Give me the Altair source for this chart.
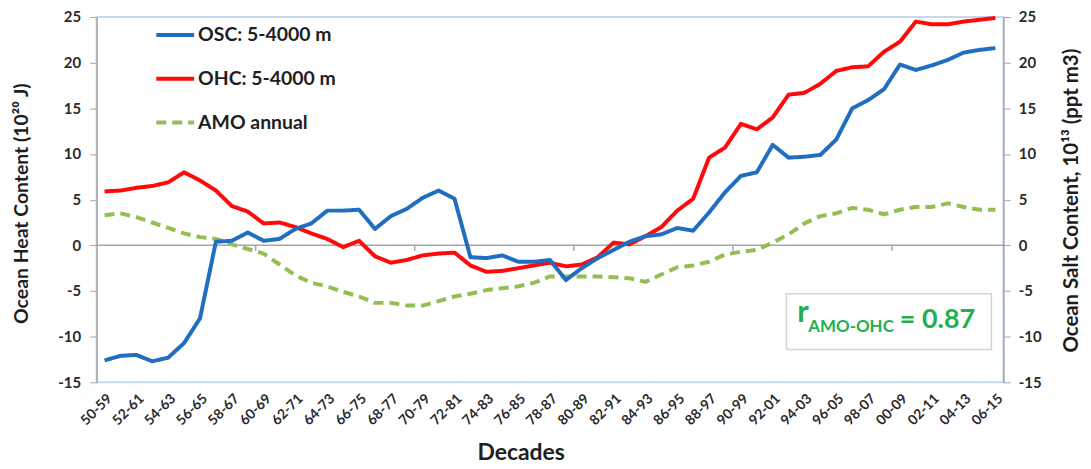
import altair as alt
import pandas as pd

# ---- data ----
start_years = list(range(1950, 2007))
decades = [f"{y % 100:02d}-{(y + 9) % 100:02d}" for y in start_years]

osc = [-12.6, -12.1, -12.0, -12.7, -12.3, -10.7, -8.0,
       0.4, 0.5, 1.4, 0.5, 0.7, 1.8, 2.4, 3.8,
       3.8, 3.9, 1.8, 3.2, 4.0, 5.2, 6.0, 5.1,
       -1.3, -1.4, -1.1, -1.8, -1.8, -1.6,
       -3.8, -2.5, -1.4, -0.5, 0.4, 1.0, 1.2, 1.9, 1.6, 3.6, 5.8, 7.6, 8.0, 11.0,
       9.6, 9.7, 9.9, 11.6, 15.0, 15.9, 17.1, 19.8, 19.2, 19.7, 20.3, 21.1, 21.4, 21.6]

ohc = [5.9, 6.0, 6.3, 6.5, 6.9, 8.0, 7.1, 6.0, 4.3, 3.7, 2.4, 2.5, 2.0, 1.3, 0.7,
       -0.2, 0.5, -1.2, -1.9, -1.6, -1.1, -0.9, -0.8, -2.2, -2.9, -2.8, -2.5, -2.2, -1.9,
       -2.3, -2.1, -1.3, 0.3, 0.1, 1.0, 2.0, 3.8, 5.1, 9.6, 10.7, 13.3, 12.7, 14.0,
       16.5, 16.7, 17.7, 19.1, 19.5, 19.6, 21.2, 22.3, 24.5, 24.2, 24.2, 24.5, 24.7, 24.9]

amo = [3.3, 3.5, 3.1, 2.5, 1.9, 1.3, 0.9, 0.7, 0.1, -0.4, -0.9, -2.1, -3.3, -4.1, -4.5,
       -5.1, -5.6, -6.3, -6.3, -6.6, -6.6, -6.1, -5.6, -5.3, -4.9, -4.7, -4.5, -4.1, -3.4,
       -3.4, -3.4, -3.4, -3.5, -3.6, -4.0, -3.2, -2.4, -2.2, -1.8, -1.0, -0.7, -0.5, 0.3,
       1.2, 2.4, 3.2, 3.5, 4.1, 3.9, 3.4, 3.9, 4.2, 4.2, 4.6, 4.2, 3.9, 3.9]

series_names = ["OSC: 5-4000 m", "OHC: 5-4000 m", "AMO annual"]
series_colors = ["#1f6ebf", "#ff0a0a", "#93bf52"]
series_dash = [[1, 0], [1, 0], [10, 6]]

y_ticks = [-15, -10, -5, 0, 5, 10, 15, 20, 25]
x_label_values = decades[::2]
boundary_ticks = [decades[i] for i in (10, 20, 30, 40, 50)]

corr_r = "r"
corr_sub = "AMO-OHC"
corr_val = "= 0.87"

FONT = "Lato"
GREEN = "#22b04e"
TXT = "#1e1e1e"

# ---- tables ----
left_df = pd.DataFrame({
    "decade": decades * 2,
    "value": ohc + amo,
    "series": [series_names[1]] * len(decades) + [series_names[2]] * len(decades),
})
right_df = pd.DataFrame({"decade": decades, "value": osc, "series": [series_names[0]] * len(decades)})
zero_df = pd.DataFrame({"value": [0]})
tick_df = pd.DataFrame({"decade": boundary_ticks})

# ---- scales / axes ----
x_scale = alt.Scale(domain=decades, type="point", padding=0.5)
color_scale = alt.Scale(domain=series_names, range=series_colors)
dash_scale = alt.Scale(domain=series_names, range=series_dash)
y_scale = alt.Scale(domain=[-15, 25], nice=False, zero=False)

x_axis = alt.Axis(values=x_label_values, labelAngle=-45, labelFontSize=14, labelFontWeight="bold",
                  labelColor="#2a2a2a", labelPadding=9, ticks=False, domain=False, grid=False,
                  title="Decades", titleFontSize=23, titleFontWeight="bold", titleColor=TXT,
                  titleX=426, titleY=71, titleBaseline="middle", titleAlign="center")

y_axis_left = alt.Axis(orient="left", values=y_ticks, grid=False, tickSize=7, tickColor="#a6a6a6",
                       domainColor="#a6a6a6", domainWidth=1.5, labelFontSize=15, labelFontWeight="bold",
                       labelColor="#2a2a2a", labelPadding=9, labelExpr="'' + datum.value",
                       title="Ocean Heat Content (10²⁰ J)", titleFontSize=19.5, titleFontWeight="bold",
                       titleColor=TXT, titleAngle=270, titleX=-75, titleY=187,
                       titleAlign="center", titleBaseline="middle")

y_axis_right = alt.Axis(orient="right", values=y_ticks, grid=False, tickSize=7, tickColor="#a6a6a6",
                        domainColor="#a6a6a6", domainWidth=1.5, labelFontSize=15, labelFontWeight="bold",
                        labelColor="#2a2a2a", labelPadding=8, labelExpr="'' + datum.value",
                        title="Ocean Salt Content, 10¹³ (ppt m3)", titleFontSize=20.5, titleFontWeight="bold",
                        titleColor=TXT, titleAngle=270, titleX=68, titleY=184,
                        titleAlign="center", titleBaseline="middle")

legend = alt.Legend(orient="none", legendX=58, legendY=-3, title=None, symbolType="stroke",
                    symbolSize=1444, symbolStrokeWidth=4, labelFontSize=19.5, labelFont=FONT,
                    labelFontWeight="bold", labelColor=TXT, rowPadding=13, labelOffset=2, padding=0)

X = alt.X("decade:O", scale=x_scale, axis=x_axis)
Y_left = alt.Y("value:Q", scale=y_scale, axis=y_axis_left)
Y_right = alt.Y("value:Q", scale=y_scale, axis=y_axis_right)
COLOR = alt.Color("series:N", scale=color_scale, legend=legend)
DASH = alt.StrokeDash("series:N", scale=dash_scale, legend=legend)

# ---- layers ----
zero_line = alt.Chart(zero_df).mark_rule(color="#a6a6a6", strokeWidth=1.5).encode(y=Y_left)

zero_ticks = alt.Chart(tick_df).mark_rule(color="#a6a6a6", strokeWidth=1.5, xOffset=-8).encode(
    x=X, y=alt.datum(0), y2=alt.datum(-0.6))

left_lines = alt.Chart(left_df).mark_line(strokeWidth=4, strokeCap="butt", strokeJoin="round").encode(
    x=X, y=Y_left, color=COLOR, strokeDash=DASH,
    order=alt.Order("series:N", sort="ascending"))

box = alt.Chart(pd.DataFrame({"k": [1]})).mark_rect(fill="white", stroke="#d4d4d4", strokeWidth=1.5).encode(
    x=alt.value(693), x2=alt.value(899), y=alt.value(278), y2=alt.value(334))

t_r = alt.Chart(pd.DataFrame({"t": [corr_r]})).mark_text(
    font=FONT, fontSize=31, fontWeight="bold", color=GREEN, align="left", baseline="alphabetic").encode(
    x=alt.value(704), y=alt.value(306), text="t:N")
t_sub = alt.Chart(pd.DataFrame({"t": [corr_sub]})).mark_text(
    font=FONT, fontSize=17, fontWeight="bold", color=GREEN, align="left", baseline="alphabetic").encode(
    x=alt.value(715), y=alt.value(316), text="t:N")
t_val = alt.Chart(pd.DataFrame({"t": [corr_val]})).mark_text(
    font=FONT, fontSize=27, fontWeight="bold", color=GREEN, align="left", baseline="alphabetic").encode(
    x=alt.value(807), y=alt.value(312), text="t:N")

left_group = alt.layer(zero_line, zero_ticks, left_lines, box, t_r, t_sub, t_val)

right_lines = alt.Chart(right_df).mark_line(strokeWidth=4, strokeCap="butt", strokeJoin="round").encode(
    x=X, y=Y_right, color=COLOR, strokeDash=DASH)

chart = alt.layer(left_group, right_lines).resolve_scale(y="independent").properties(
    width=911, height=367,
    autosize=alt.AutoSizeParams(type="none"),
    padding={"left": 89, "top": 8, "right": 80, "bottom": 82},
).configure(font=FONT).configure_view(stroke="#c5d8ef", strokeWidth=2)

chart.save("out.html", embed_options={"renderer": "svg", "actions": False})
